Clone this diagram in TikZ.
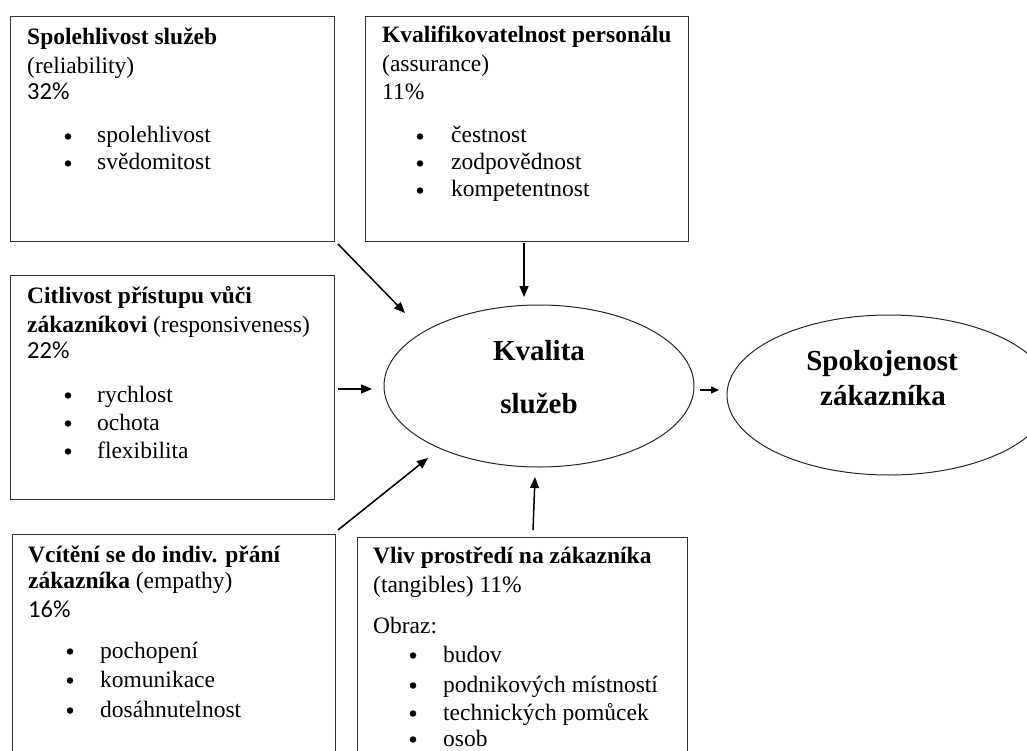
\documentclass[tikz,border=0pt]{standalone}
\usepackage{fontspec}
\setmainfont{Liberation Serif}
\newfontfamily\pct{Carlito}
\usetikzlibrary{arrows.meta,shapes.geometric}
\begin{document}
\begin{tikzpicture}[x=1pt,y=-1pt,
  box/.style={draw=black!80, line width=1.3pt, rectangle, inner sep=0pt, anchor=north west},
  hd/.style={font=\fontsize{23.5}{28}\selectfont\bfseries, anchor=base west, inner sep=0pt},
  tx/.style={font=\fontsize{23.5}{28}\selectfont, anchor=base west, inner sep=0pt},
  pc/.style={font=\pct\fontsize{24.5}{28}\selectfont, anchor=base west, inner sep=0pt},
  bl/.style={circle, fill=black, draw=none, inner sep=0pt, minimum size=6.5pt},
  oval/.style={draw=black!85, line width=1pt, ellipse, inner sep=0pt},
  et/.style={font=\fontsize{29}{32}\selectfont\bfseries, anchor=base, inner sep=0pt},
  arr/.style={-{Triangle[length=11pt,width=9pt]}, line width=1.5pt},
  sarr/.style={-{Triangle[length=8pt,width=7pt]}, line width=1.5pt}
]
\useasboundingbox (0,0) rectangle (1027,751);
\clip (0,0) rectangle (1027,751);
% boxes
\node[box, minimum width=324, minimum height=225] (b1) at (10,16) {};
\node[box, minimum width=323, minimum height=225] (b2) at (365,16) {};
\node[box, minimum width=324, minimum height=224] (b3) at (10,275) {};
\node[box, minimum width=323, minimum height=266] (b4) at (12,534) {};
\node[box, minimum width=330, minimum height=266] (b5) at (357,537) {};
% ellipses
\node[oval, minimum width=310, minimum height=162] (k) at (539,386) {};
\node[oval, minimum width=324, minimum height=160] (s) at (889,395) {};
\node[et] (k1) at (539,360) {Kvalita};
\node[et] (k2) at (539,413) {služeb};
\node[et] (s1) at (882,370) {Spokojenost};
\node[et] (s2) at (883,405) {zákazníka};
% box 1
\node[hd] (t11) at (27,45) {Spolehlivost služeb};
\node[tx] (t12) at (27,74) {(reliability)};
\node[pc] (t13) at (27,100) {32\%};
\node[bl] (u11) at (68,136.5) {};
\node[tx] (i11) at (97,143) {spolehlivost};
\node[bl] (u12) at (68,163.5) {};
\node[tx] (i12) at (97,170) {svědomitost};
% box 2
\node[hd] (t21) at (382,43) {Kvalifikovatelnost personálu};
\node[tx] (t22) at (382,72) {(assurance)};
\node[tx] (t23) at (382,100) {11\%};
\node[bl] (u21) at (420,136.5) {};
\node[tx] (i21) at (451,143) {čestnost};
\node[bl] (u22) at (420,163.5) {};
\node[tx] (i22) at (451,170) {zodpovědnost};
\node[bl] (u23) at (420,190.5) {};
\node[tx] (i23) at (451,197) {kompetentnost};
% box 3
\node[hd] (t31) at (27,303) {Citlivost přístupu vůči};
\node[tx] (t32) at (27,332) {\textbf{zákazníkovi} (responsiveness)};
\node[pc] (t33) at (27,358) {22\%};
\node[bl] (u31) at (68,395.5) {};
\node[tx] (i31) at (97,402) {rychlost};
\node[bl] (u32) at (68,423.5) {};
\node[tx] (i32) at (97,430) {ochota};
\node[bl] (u33) at (68,451.5) {};
\node[tx] (i33) at (97,458) {flexibilita};
% box 4
\node[hd] (t41) at (28,562) {Vcítění se do indiv. přání};
\node[tx] (t42) at (28,588) {\textbf{zákazníka} (empathy)};
\node[pc] (t43) at (28,617) {16\%};
\node[bl] (u41) at (70,651.5) {};
\node[tx] (i41) at (100,658) {pochopení};
\node[bl] (u42) at (70,680.5) {};
\node[tx] (i42) at (100,687) {komunikace};
\node[bl] (u43) at (70,710.5) {};
\node[tx] (i43) at (100,717) {dosáhnutelnost};
% box 5
\node[hd] (t51) at (373,563) {Vliv prostředí na zákazníka};
\node[tx] (t52) at (373,592) {(tangibles) 11\%};
\node[tx] (t53) at (373,633) {Obraz:};
\node[bl] (u51) at (413,655.5) {};
\node[tx] (i51) at (443,662) {budov};
\node[bl] (u52) at (413,685.5) {};
\node[tx] (i52) at (443,692) {podnikových místností};
\node[bl] (u53) at (413,713.5) {};
\node[tx] (i53) at (443,720) {technických pomůcek};
\node[bl] (u54) at (413,739.5) {};
\node[tx] (i54) at (443,746) {osob};
% arrow end points
\coordinate (a1s) at (338,244); \coordinate (a1e) at (405,313);
\coordinate (a2s) at (524,243); \coordinate (a2e) at (524,297);
\coordinate (a3s) at (338,389); \coordinate (a3e) at (372,389);
\coordinate (a4s) at (338,530); \coordinate (a4e) at (428,458);
\coordinate (a5s) at (533,530); \coordinate (a5e) at (535,477);
\coordinate (a6s) at (700,390); \coordinate (a6e) at (719,390);
\draw[arr] (a1s) -- (a1e);
\draw[arr] (a2s) -- (a2e);
\draw[arr] (a3s) -- (a3e);
\draw[arr] (a4s) -- (a4e);
\draw[arr] (a5s) -- (a5e);
\draw[sarr] (a6s) -- (a6e);
\end{tikzpicture}
\end{document}
